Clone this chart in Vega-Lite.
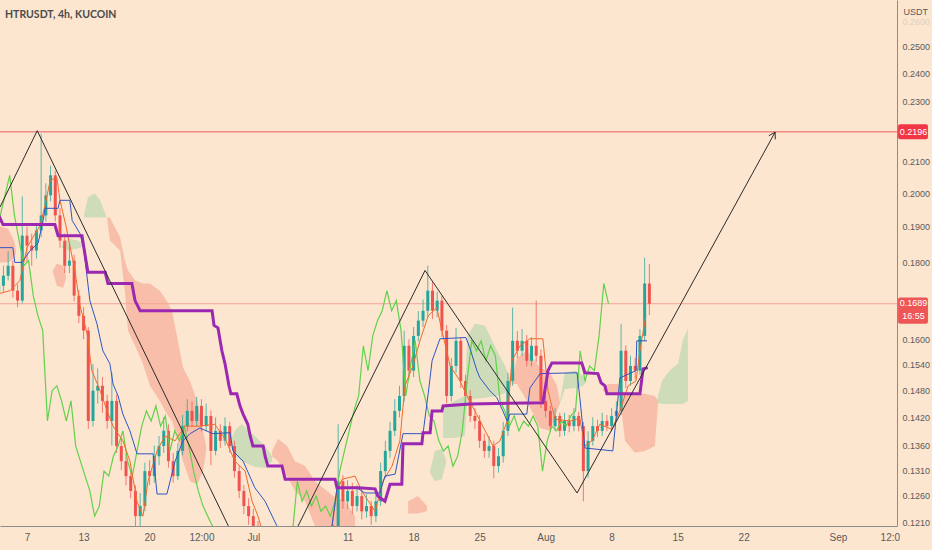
{
"$schema":"https://vega.github.io/schema/vega-lite/v6.json",
"width":897,"height":526,
"autosize":{"type":"none"},
"padding":{"left":0,"top":0,"right":35,"bottom":24},
"background":"#fce6d0",
"config":{"view":{"stroke":null},"font":"Liberation Sans","scale":{"continuousPadding":0}},
"title":{"text":"HTRUSDT, 4h, KUCOIN","anchor":"start","frame":"group","offset":-20,"dx":5,"fontSize":10.5,"fontWeight":"bold","color":"#4a4a4a","font":"Lato"},
"resolve":{"axis":{"x":"independent","y":"independent"}},
"datasets":{
"candles":[
{"t":"2022-06-04T00:00Z","o":0.1720,"h":0.1765,"l":0.1700,"c":0.1736},
{"t":"2022-06-04T12:00Z","o":0.1736,"h":0.1790,"l":0.1720,"c":0.1763},
{"t":"2022-06-05T00:00Z","o":0.1763,"h":0.1830,"l":0.1750,"c":0.1790},
{"t":"2022-06-05T12:00Z","o":0.1790,"h":0.1805,"l":0.1705,"c":0.1723},
{"t":"2022-06-06T00:00Z","o":0.1723,"h":0.1740,"l":0.1680,"c":0.1697},
{"t":"2022-06-06T12:00Z","o":0.1697,"h":0.1990,"l":0.1690,"c":0.1874},
{"t":"2022-06-07T00:00Z","o":0.1874,"h":0.1900,"l":0.1800,"c":0.1846},
{"t":"2022-06-07T12:00Z","o":0.1846,"h":0.1880,"l":0.1790,"c":0.1832},
{"t":"2022-06-08T00:00Z","o":0.1832,"h":0.1910,"l":0.1810,"c":0.1889},
{"t":"2022-06-08T12:00Z","o":0.1889,"h":0.2190,"l":0.1870,"c":0.1933},
{"t":"2022-06-09T00:00Z","o":0.1933,"h":0.2030,"l":0.1915,"c":0.1993},
{"t":"2022-06-09T12:00Z","o":0.1993,"h":0.2085,"l":0.1975,"c":0.2055},
{"t":"2022-06-10T00:00Z","o":0.2055,"h":0.2070,"l":0.1915,"c":0.1933},
{"t":"2022-06-10T12:00Z","o":0.1933,"h":0.1955,"l":0.1840,"c":0.1860},
{"t":"2022-06-11T00:00Z","o":0.1860,"h":0.1880,"l":0.1770,"c":0.1790},
{"t":"2022-06-11T12:00Z","o":0.1790,"h":0.1850,"l":0.1770,"c":0.1804},
{"t":"2022-06-12T00:00Z","o":0.1804,"h":0.1820,"l":0.1695,"c":0.1710},
{"t":"2022-06-12T12:00Z","o":0.1710,"h":0.1725,"l":0.1640,"c":0.1658},
{"t":"2022-06-13T00:00Z","o":0.1658,"h":0.1680,"l":0.1600,"c":0.1621},
{"t":"2022-06-13T12:00Z","o":0.1621,"h":0.1630,"l":0.1395,"c":0.1412},
{"t":"2022-06-14T00:00Z","o":0.1412,"h":0.1540,"l":0.1400,"c":0.1479},
{"t":"2022-06-14T12:00Z","o":0.1479,"h":0.1530,"l":0.1450,"c":0.1490},
{"t":"2022-06-15T00:00Z","o":0.1490,"h":0.1510,"l":0.1430,"c":0.1456},
{"t":"2022-06-15T12:00Z","o":0.1456,"h":0.1470,"l":0.1395,"c":0.1412},
{"t":"2022-06-16T00:00Z","o":0.1412,"h":0.1520,"l":0.1360,"c":0.1456},
{"t":"2022-06-16T12:00Z","o":0.1456,"h":0.1470,"l":0.1345,"c":0.1359},
{"t":"2022-06-17T00:00Z","o":0.1359,"h":0.1375,"l":0.1310,"c":0.1328},
{"t":"2022-06-17T12:00Z","o":0.1328,"h":0.1345,"l":0.1280,"c":0.1298},
{"t":"2022-06-18T00:00Z","o":0.1298,"h":0.1310,"l":0.1255,"c":0.1269},
{"t":"2022-06-18T12:00Z","o":0.1269,"h":0.1280,"l":0.1198,"c":0.1221},
{"t":"2022-06-19T00:00Z","o":0.1221,"h":0.1265,"l":0.1200,"c":0.1240},
{"t":"2022-06-19T12:00Z","o":0.1240,"h":0.1325,"l":0.1230,"c":0.1308},
{"t":"2022-06-20T00:00Z","o":0.1308,"h":0.1330,"l":0.1280,"c":0.1298},
{"t":"2022-06-20T12:00Z","o":0.1298,"h":0.1360,"l":0.1285,"c":0.1338},
{"t":"2022-06-21T00:00Z","o":0.1338,"h":0.1380,"l":0.1320,"c":0.1359},
{"t":"2022-06-21T12:00Z","o":0.1359,"h":0.1420,"l":0.1345,"c":0.1391},
{"t":"2022-06-22T00:00Z","o":0.1391,"h":0.1405,"l":0.1315,"c":0.1328},
{"t":"2022-06-22T12:00Z","o":0.1328,"h":0.1345,"l":0.1285,"c":0.1298},
{"t":"2022-06-23T00:00Z","o":0.1298,"h":0.1365,"l":0.1290,"c":0.1349},
{"t":"2022-06-23T12:00Z","o":0.1349,"h":0.1425,"l":0.1340,"c":0.1401},
{"t":"2022-06-24T00:00Z","o":0.1401,"h":0.1460,"l":0.1390,"c":0.1434},
{"t":"2022-06-24T12:00Z","o":0.1434,"h":0.1455,"l":0.1400,"c":0.1412},
{"t":"2022-06-25T00:00Z","o":0.1412,"h":0.1465,"l":0.1400,"c":0.1445},
{"t":"2022-06-25T12:00Z","o":0.1445,"h":0.1460,"l":0.1390,"c":0.1401},
{"t":"2022-06-26T00:00Z","o":0.1401,"h":0.1450,"l":0.1390,"c":0.1423},
{"t":"2022-06-26T12:00Z","o":0.1423,"h":0.1435,"l":0.1320,"c":0.1349},
{"t":"2022-06-27T00:00Z","o":0.1349,"h":0.1420,"l":0.1340,"c":0.1391},
{"t":"2022-06-27T12:00Z","o":0.1391,"h":0.1405,"l":0.1355,"c":0.1370},
{"t":"2022-06-28T00:00Z","o":0.1370,"h":0.1420,"l":0.1360,"c":0.1401},
{"t":"2022-06-28T12:00Z","o":0.1401,"h":0.1410,"l":0.1345,"c":0.1359},
{"t":"2022-06-29T00:00Z","o":0.1359,"h":0.1370,"l":0.1295,"c":0.1308},
{"t":"2022-06-29T12:00Z","o":0.1308,"h":0.1320,"l":0.1255,"c":0.1269},
{"t":"2022-06-30T00:00Z","o":0.1269,"h":0.1280,"l":0.1225,"c":0.1240},
{"t":"2022-06-30T12:00Z","o":0.1240,"h":0.1255,"l":0.1205,"c":0.1221},
{"t":"2022-07-01T00:00Z","o":0.1221,"h":0.1235,"l":0.1190,"c":0.1203},
{"t":"2022-07-01T12:00Z","o":0.1203,"h":0.1212,"l":0.1180,"c":0.1193},
{"t":"2022-07-02T00:00Z","o":0.1193,"h":0.1200,"l":0.1155,"c":0.1166},
{"t":"2022-07-02T12:00Z","o":0.1166,"h":0.1175,"l":0.1145,"c":0.1157},
{"t":"2022-07-03T00:00Z","o":0.1157,"h":0.1165,"l":0.1140,"c":0.1149},
{"t":"2022-07-03T12:00Z","o":0.1149,"h":0.1170,"l":0.1140,"c":0.1157},
{"t":"2022-07-04T00:00Z","o":0.1157,"h":0.1178,"l":0.1148,"c":0.1166},
{"t":"2022-07-04T12:00Z","o":0.1166,"h":0.1172,"l":0.1140,"c":0.1149},
{"t":"2022-07-05T00:00Z","o":0.1149,"h":0.1168,"l":0.1140,"c":0.1157},
{"t":"2022-07-05T12:00Z","o":0.1157,"h":0.1175,"l":0.1148,"c":0.1166},
{"t":"2022-07-06T00:00Z","o":0.1166,"h":0.1175,"l":0.1148,"c":0.1157},
{"t":"2022-07-06T12:00Z","o":0.1157,"h":0.1185,"l":0.1150,"c":0.1175},
{"t":"2022-07-07T00:00Z","o":0.1175,"h":0.1185,"l":0.1158,"c":0.1166},
{"t":"2022-07-07T12:00Z","o":0.1166,"h":0.1188,"l":0.1160,"c":0.1175},
{"t":"2022-07-08T00:00Z","o":0.1175,"h":0.1185,"l":0.1158,"c":0.1166},
{"t":"2022-07-08T12:00Z","o":0.1166,"h":0.1190,"l":0.1160,"c":0.1175},
{"t":"2022-07-09T00:00Z","o":0.1175,"h":0.1195,"l":0.1165,"c":0.1184},
{"t":"2022-07-09T12:00Z","o":0.1184,"h":0.1205,"l":0.1175,"c":0.1193},
{"t":"2022-07-10T00:00Z","o":0.1193,"h":0.1405,"l":0.1185,"c":0.1288},
{"t":"2022-07-10T12:00Z","o":0.1288,"h":0.1300,"l":0.1235,"c":0.1249},
{"t":"2022-07-11T00:00Z","o":0.1249,"h":0.1290,"l":0.1235,"c":0.1269},
{"t":"2022-07-11T12:00Z","o":0.1269,"h":0.1285,"l":0.1225,"c":0.1240},
{"t":"2022-07-12T00:00Z","o":0.1240,"h":0.1280,"l":0.1230,"c":0.1259},
{"t":"2022-07-12T12:00Z","o":0.1259,"h":0.1270,"l":0.1215,"c":0.1230},
{"t":"2022-07-13T00:00Z","o":0.1230,"h":0.1262,"l":0.1218,"c":0.1240},
{"t":"2022-07-13T12:00Z","o":0.1240,"h":0.1250,"l":0.1205,"c":0.1221},
{"t":"2022-07-14T00:00Z","o":0.1221,"h":0.1265,"l":0.1210,"c":0.1249},
{"t":"2022-07-14T12:00Z","o":0.1249,"h":0.1325,"l":0.1240,"c":0.1308},
{"t":"2022-07-15T00:00Z","o":0.1308,"h":0.1370,"l":0.1295,"c":0.1349},
{"t":"2022-07-15T12:00Z","o":0.1349,"h":0.1410,"l":0.1335,"c":0.1391},
{"t":"2022-07-16T00:00Z","o":0.1391,"h":0.1460,"l":0.1380,"c":0.1434},
{"t":"2022-07-16T12:00Z","o":0.1434,"h":0.1490,"l":0.1420,"c":0.1467},
{"t":"2022-07-17T00:00Z","o":0.1467,"h":0.1621,"l":0.1455,"c":0.1584},
{"t":"2022-07-17T12:00Z","o":0.1584,"h":0.1600,"l":0.1505,"c":0.1525},
{"t":"2022-07-18T00:00Z","o":0.1525,"h":0.1630,"l":0.1510,"c":0.1608},
{"t":"2022-07-18T12:00Z","o":0.1608,"h":0.1670,"l":0.1595,"c":0.1646},
{"t":"2022-07-19T00:00Z","o":0.1646,"h":0.1700,"l":0.1630,"c":0.1671},
{"t":"2022-07-19T12:00Z","o":0.1671,"h":0.1790,"l":0.1655,"c":0.1723},
{"t":"2022-07-20T00:00Z","o":0.1723,"h":0.1745,"l":0.1650,"c":0.1671},
{"t":"2022-07-20T12:00Z","o":0.1671,"h":0.1720,"l":0.1655,"c":0.1697},
{"t":"2022-07-21T00:00Z","o":0.1697,"h":0.1710,"l":0.1605,"c":0.1621},
{"t":"2022-07-21T12:00Z","o":0.1621,"h":0.1635,"l":0.1450,"c":0.1467},
{"t":"2022-07-22T00:00Z","o":0.1467,"h":0.1555,"l":0.1455,"c":0.1536},
{"t":"2022-07-22T12:00Z","o":0.1536,"h":0.1628,"l":0.1520,"c":0.1596},
{"t":"2022-07-23T00:00Z","o":0.1596,"h":0.1605,"l":0.1485,"c":0.1501},
{"t":"2022-07-23T12:00Z","o":0.1501,"h":0.1515,"l":0.1450,"c":0.1467},
{"t":"2022-07-24T00:00Z","o":0.1467,"h":0.1480,"l":0.1410,"c":0.1423},
{"t":"2022-07-24T12:00Z","o":0.1423,"h":0.1440,"l":0.1395,"c":0.1412},
{"t":"2022-07-25T00:00Z","o":0.1412,"h":0.1425,"l":0.1355,"c":0.1370},
{"t":"2022-07-25T12:00Z","o":0.1370,"h":0.1385,"l":0.1335,"c":0.1349},
{"t":"2022-07-26T00:00Z","o":0.1349,"h":0.1380,"l":0.1335,"c":0.1359},
{"t":"2022-07-26T12:00Z","o":0.1359,"h":0.1370,"l":0.1294,"c":0.1318},
{"t":"2022-07-27T00:00Z","o":0.1318,"h":0.1355,"l":0.1305,"c":0.1338},
{"t":"2022-07-27T12:00Z","o":0.1338,"h":0.1410,"l":0.1325,"c":0.1391},
{"t":"2022-07-28T00:00Z","o":0.1391,"h":0.1520,"l":0.1380,"c":0.1501},
{"t":"2022-07-28T12:00Z","o":0.1501,"h":0.1679,"l":0.1490,"c":0.1596},
{"t":"2022-07-29T00:00Z","o":0.1596,"h":0.1620,"l":0.1555,"c":0.1572},
{"t":"2022-07-29T12:00Z","o":0.1572,"h":0.1625,"l":0.1560,"c":0.1596},
{"t":"2022-07-30T00:00Z","o":0.1596,"h":0.1610,"l":0.1535,"c":0.1548},
{"t":"2022-07-30T12:00Z","o":0.1548,"h":0.1605,"l":0.1535,"c":0.1584},
{"t":"2022-07-31T00:00Z","o":0.1584,"h":0.1697,"l":0.1545,"c":0.1560},
{"t":"2022-07-31T12:00Z","o":0.1560,"h":0.1575,"l":0.1440,"c":0.1456},
{"t":"2022-08-01T00:00Z","o":0.1456,"h":0.1470,"l":0.1420,"c":0.1434},
{"t":"2022-08-01T12:00Z","o":0.1434,"h":0.1445,"l":0.1388,"c":0.1401},
{"t":"2022-08-02T00:00Z","o":0.1401,"h":0.1440,"l":0.1390,"c":0.1423},
{"t":"2022-08-02T12:00Z","o":0.1423,"h":0.1430,"l":0.1378,"c":0.1391},
{"t":"2022-08-03T00:00Z","o":0.1391,"h":0.1430,"l":0.1380,"c":0.1412},
{"t":"2022-08-03T12:00Z","o":0.1412,"h":0.1425,"l":0.1388,"c":0.1401},
{"t":"2022-08-04T00:00Z","o":0.1401,"h":0.1440,"l":0.1390,"c":0.1423},
{"t":"2022-08-04T12:00Z","o":0.1423,"h":0.1432,"l":0.1390,"c":0.1401},
{"t":"2022-08-05T00:00Z","o":0.1401,"h":0.1410,"l":0.1249,"c":0.1308},
{"t":"2022-08-05T12:00Z","o":0.1308,"h":0.1390,"l":0.1295,"c":0.1370},
{"t":"2022-08-06T00:00Z","o":0.1370,"h":0.1420,"l":0.1360,"c":0.1401},
{"t":"2022-08-06T12:00Z","o":0.1401,"h":0.1415,"l":0.1378,"c":0.1391},
{"t":"2022-08-07T00:00Z","o":0.1391,"h":0.1430,"l":0.1380,"c":0.1412},
{"t":"2022-08-07T12:00Z","o":0.1412,"h":0.1425,"l":0.1390,"c":0.1401},
{"t":"2022-08-08T00:00Z","o":0.1401,"h":0.1440,"l":0.1390,"c":0.1423},
{"t":"2022-08-08T12:00Z","o":0.1423,"h":0.1455,"l":0.1410,"c":0.1434},
{"t":"2022-08-09T00:00Z","o":0.1434,"h":0.1638,"l":0.1425,"c":0.1572},
{"t":"2022-08-09T12:00Z","o":0.1572,"h":0.1585,"l":0.1485,"c":0.1501},
{"t":"2022-08-10T00:00Z","o":0.1501,"h":0.1560,"l":0.1490,"c":0.1536},
{"t":"2022-08-10T12:00Z","o":0.1536,"h":0.1555,"l":0.1505,"c":0.1525},
{"t":"2022-08-11T00:00Z","o":0.1525,"h":0.1625,"l":0.1515,"c":0.1608},
{"t":"2022-08-11T12:00Z","o":0.1608,"h":0.1812,"l":0.1595,"c":0.1742},
{"t":"2022-08-12T00:00Z","o":0.1742,"h":0.1795,"l":0.1660,"c":0.1689}
],
"green":[
{"t":"2022-06-03T16:00Z","v":0.1889},{"t":"2022-06-04T04:00Z","v":0.1933},{"t":"2022-06-04T16:00Z","v":0.1993},{"t":"2022-06-05T04:00Z","v":0.2055},
{"t":"2022-06-05T16:00Z","v":0.1933},{"t":"2022-06-06T04:00Z","v":0.1860},{"t":"2022-06-06T16:00Z","v":0.1790},{"t":"2022-06-07T04:00Z","v":0.1804},
{"t":"2022-06-07T16:00Z","v":0.1710},{"t":"2022-06-08T04:00Z","v":0.1658},{"t":"2022-06-08T16:00Z","v":0.1621},{"t":"2022-06-09T04:00Z","v":0.1412},
{"t":"2022-06-09T16:00Z","v":0.1479},{"t":"2022-06-10T04:00Z","v":0.1490},{"t":"2022-06-10T16:00Z","v":0.1456},{"t":"2022-06-11T04:00Z","v":0.1412},
{"t":"2022-06-11T16:00Z","v":0.1456},{"t":"2022-06-12T04:00Z","v":0.1359},{"t":"2022-06-12T16:00Z","v":0.1328},{"t":"2022-06-13T04:00Z","v":0.1298},
{"t":"2022-06-13T16:00Z","v":0.1269},{"t":"2022-06-14T04:00Z","v":0.1221},{"t":"2022-06-14T16:00Z","v":0.1240},{"t":"2022-06-15T04:00Z","v":0.1308},
{"t":"2022-06-15T16:00Z","v":0.1298},{"t":"2022-06-16T04:00Z","v":0.1338},{"t":"2022-06-16T16:00Z","v":0.1359},{"t":"2022-06-17T04:00Z","v":0.1391},
{"t":"2022-06-17T16:00Z","v":0.1328},{"t":"2022-06-18T04:00Z","v":0.1298},{"t":"2022-06-18T16:00Z","v":0.1349},{"t":"2022-06-19T04:00Z","v":0.1401},
{"t":"2022-06-19T16:00Z","v":0.1434},{"t":"2022-06-20T04:00Z","v":0.1412},{"t":"2022-06-20T16:00Z","v":0.1445},{"t":"2022-06-21T04:00Z","v":0.1401},
{"t":"2022-06-21T16:00Z","v":0.1423},{"t":"2022-06-22T04:00Z","v":0.1349},{"t":"2022-06-22T16:00Z","v":0.1391},{"t":"2022-06-23T04:00Z","v":0.1370},
{"t":"2022-06-23T16:00Z","v":0.1401},{"t":"2022-06-24T04:00Z","v":0.1359},{"t":"2022-06-24T16:00Z","v":0.1308},{"t":"2022-06-25T04:00Z","v":0.1269},
{"t":"2022-06-25T16:00Z","v":0.1240},{"t":"2022-06-26T04:00Z","v":0.1221},{"t":"2022-06-26T16:00Z","v":0.1203},{"t":"2022-06-27T04:00Z","v":0.1193},
{"t":"2022-06-27T16:00Z","v":0.1166},{"t":"2022-06-28T04:00Z","v":0.1157},{"t":"2022-06-28T16:00Z","v":0.1149},{"t":"2022-06-29T04:00Z","v":0.1157},
{"t":"2022-06-29T16:00Z","v":0.1166},{"t":"2022-06-30T04:00Z","v":0.1149},{"t":"2022-06-30T16:00Z","v":0.1157},{"t":"2022-07-01T04:00Z","v":0.1166},
{"t":"2022-07-01T16:00Z","v":0.1157},{"t":"2022-07-02T04:00Z","v":0.1175},{"t":"2022-07-02T16:00Z","v":0.1166},{"t":"2022-07-03T04:00Z","v":0.1175},
{"t":"2022-07-03T16:00Z","v":0.1166},{"t":"2022-07-04T04:00Z","v":0.1175},{"t":"2022-07-04T16:00Z","v":0.1184},{"t":"2022-07-05T04:00Z","v":0.1193},
{"t":"2022-07-05T16:00Z","v":0.1288},{"t":"2022-07-06T04:00Z","v":0.1249},{"t":"2022-07-06T16:00Z","v":0.1269},{"t":"2022-07-07T04:00Z","v":0.1240},
{"t":"2022-07-07T16:00Z","v":0.1259},{"t":"2022-07-08T04:00Z","v":0.1230},{"t":"2022-07-08T16:00Z","v":0.1240},{"t":"2022-07-09T04:00Z","v":0.1221},
{"t":"2022-07-09T16:00Z","v":0.1249},{"t":"2022-07-10T04:00Z","v":0.1308},{"t":"2022-07-10T16:00Z","v":0.1349},{"t":"2022-07-11T04:00Z","v":0.1391},
{"t":"2022-07-11T16:00Z","v":0.1434},{"t":"2022-07-12T04:00Z","v":0.1467},{"t":"2022-07-12T16:00Z","v":0.1584},{"t":"2022-07-13T04:00Z","v":0.1525},
{"t":"2022-07-13T16:00Z","v":0.1608},{"t":"2022-07-14T04:00Z","v":0.1646},{"t":"2022-07-14T16:00Z","v":0.1671},{"t":"2022-07-15T04:00Z","v":0.1723},
{"t":"2022-07-15T16:00Z","v":0.1671},{"t":"2022-07-16T04:00Z","v":0.1697},{"t":"2022-07-16T16:00Z","v":0.1621},{"t":"2022-07-17T04:00Z","v":0.1467},
{"t":"2022-07-17T16:00Z","v":0.1536},{"t":"2022-07-18T04:00Z","v":0.1596},{"t":"2022-07-18T16:00Z","v":0.1501},{"t":"2022-07-19T04:00Z","v":0.1467},
{"t":"2022-07-19T16:00Z","v":0.1423},{"t":"2022-07-20T04:00Z","v":0.1412},{"t":"2022-07-20T16:00Z","v":0.1370},{"t":"2022-07-21T04:00Z","v":0.1349},
{"t":"2022-07-21T16:00Z","v":0.1359},{"t":"2022-07-22T04:00Z","v":0.1318},{"t":"2022-07-22T16:00Z","v":0.1338},{"t":"2022-07-23T04:00Z","v":0.1391},
{"t":"2022-07-23T16:00Z","v":0.1501},{"t":"2022-07-24T04:00Z","v":0.1596},{"t":"2022-07-24T16:00Z","v":0.1572},{"t":"2022-07-25T04:00Z","v":0.1596},
{"t":"2022-07-25T16:00Z","v":0.1548},{"t":"2022-07-26T04:00Z","v":0.1584},{"t":"2022-07-26T16:00Z","v":0.1560},{"t":"2022-07-27T04:00Z","v":0.1456},
{"t":"2022-07-27T16:00Z","v":0.1434},{"t":"2022-07-28T04:00Z","v":0.1401},{"t":"2022-07-28T16:00Z","v":0.1423},{"t":"2022-07-29T04:00Z","v":0.1391},
{"t":"2022-07-29T16:00Z","v":0.1412},{"t":"2022-07-30T04:00Z","v":0.1401},{"t":"2022-07-30T16:00Z","v":0.1423},{"t":"2022-07-31T04:00Z","v":0.1401},
{"t":"2022-07-31T16:00Z","v":0.1308},{"t":"2022-08-01T04:00Z","v":0.1370},{"t":"2022-08-01T16:00Z","v":0.1401},{"t":"2022-08-02T04:00Z","v":0.1391},
{"t":"2022-08-02T16:00Z","v":0.1412},{"t":"2022-08-03T04:00Z","v":0.1401},{"t":"2022-08-03T16:00Z","v":0.1423},{"t":"2022-08-04T04:00Z","v":0.1434},
{"t":"2022-08-04T16:00Z","v":0.1572},{"t":"2022-08-05T04:00Z","v":0.1501},{"t":"2022-08-05T16:00Z","v":0.1536},{"t":"2022-08-06T04:00Z","v":0.1525},
{"t":"2022-08-06T16:00Z","v":0.1608},{"t":"2022-08-07T04:00Z","v":0.1742},{"t":"2022-08-07T16:00Z","v":0.1689}
],
"blue":[
{"t":"2022-06-04T00:00Z","v":0.1840},{"t":"2022-06-05T12:00Z","v":0.1840},{"t":"2022-06-05T17:00Z","v":0.1799},{"t":"2022-06-06T11:00Z","v":0.1799},
{"t":"2022-06-07T08:00Z","v":0.1832},{"t":"2022-06-08T04:00Z","v":0.1852},{"t":"2022-06-08T17:00Z","v":0.1918},{"t":"2022-06-08T22:00Z","v":0.1954},
{"t":"2022-06-10T07:00Z","v":0.1954},{"t":"2022-06-10T12:00Z","v":0.1978},{"t":"2022-06-11T13:00Z","v":0.1978},{"t":"2022-06-11T19:00Z","v":0.1918},
{"t":"2022-06-12T15:00Z","v":0.1880},{"t":"2022-06-13T01:00Z","v":0.1832},{"t":"2022-06-13T16:00Z","v":0.1697},{"t":"2022-06-14T10:00Z","v":0.1638},
{"t":"2022-06-15T01:00Z","v":0.1572},{"t":"2022-06-15T19:00Z","v":0.1541},{"t":"2022-06-16T03:00Z","v":0.1494},{"t":"2022-06-16T16:00Z","v":0.1467},
{"t":"2022-06-17T04:00Z","v":0.1427},{"t":"2022-06-17T22:00Z","v":0.1391},{"t":"2022-06-18T16:00Z","v":0.1343},{"t":"2022-06-20T09:00Z","v":0.1343},
{"t":"2022-06-20T19:00Z","v":0.1263},{"t":"2022-06-21T20:00Z","v":0.1263},{"t":"2022-06-22T17:00Z","v":0.1328},{"t":"2022-06-23T13:00Z","v":0.1370},
{"t":"2022-06-24T07:00Z","v":0.1385},{"t":"2022-06-25T08:00Z","v":0.1397},{"t":"2022-06-26T17:00Z","v":0.1385},{"t":"2022-06-28T13:00Z","v":0.1387},
{"t":"2022-06-28T20:00Z","v":0.1349},{"t":"2022-06-29T22:00Z","v":0.1328},{"t":"2022-07-01T04:00Z","v":0.1275},{"t":"2022-07-02T06:00Z","v":0.1249},
{"t":"2022-07-03T12:00Z","v":0.1203},{"t":"2022-07-04T21:00Z","v":0.1175},{"t":"2022-07-09T03:00Z","v":0.1175},{"t":"2022-07-09T21:00Z","v":0.1275},
{"t":"2022-07-12T00:00Z","v":0.1275},{"t":"2022-07-12T20:00Z","v":0.1265},{"t":"2022-07-14T10:00Z","v":0.1265},{"t":"2022-07-14T23:00Z","v":0.1298},
{"t":"2022-07-16T01:00Z","v":0.1302},{"t":"2022-07-16T21:00Z","v":0.1385},{"t":"2022-07-19T00:00Z","v":0.1385},{"t":"2022-07-19T13:00Z","v":0.1472},
{"t":"2022-07-19T23:00Z","v":0.1548},{"t":"2022-07-20T19:00Z","v":0.1601},{"t":"2022-07-23T13:00Z","v":0.1604},{"t":"2022-07-23T23:00Z","v":0.1579},
{"t":"2022-07-24T17:00Z","v":0.1525},{"t":"2022-07-25T01:00Z","v":0.1508},{"t":"2022-07-26T02:00Z","v":0.1479},{"t":"2022-07-26T20:00Z","v":0.1463},
{"t":"2022-07-27T11:00Z","v":0.1434},{"t":"2022-07-27T22:00Z","v":0.1412},{"t":"2022-07-28T05:00Z","v":0.1427},{"t":"2022-07-30T00:00Z","v":0.1427},
{"t":"2022-07-30T08:00Z","v":0.1485},{"t":"2022-07-31T10:00Z","v":0.1518},{"t":"2022-08-04T08:00Z","v":0.1520},{"t":"2022-08-04T15:00Z","v":0.1463},
{"t":"2022-08-05T04:00Z","v":0.1355},{"t":"2022-08-08T03:00Z","v":0.1349},{"t":"2022-08-08T14:00Z","v":0.1441},{"t":"2022-08-08T21:00Z","v":0.1508},
{"t":"2022-08-10T14:00Z","v":0.1525},{"t":"2022-08-10T16:00Z","v":0.1596},{"t":"2022-08-11T18:00Z","v":0.1596}
],
"orange":[
{"t":"2022-06-04T00:00Z","v":0.1715},{"t":"2022-06-05T05:00Z","v":0.1723},{"t":"2022-06-06T06:00Z","v":0.1750},{"t":"2022-06-07T00:00Z","v":0.1840},
{"t":"2022-06-07T15:00Z","v":0.1869},{"t":"2022-06-08T09:00Z","v":0.1903},{"t":"2022-06-08T22:00Z","v":0.1963},{"t":"2022-06-09T11:00Z","v":0.2039},
{"t":"2022-06-10T04:00Z","v":0.2048},{"t":"2022-06-10T12:00Z","v":0.1978},{"t":"2022-06-11T03:00Z","v":0.1903},{"t":"2022-06-11T13:00Z","v":0.1846},
{"t":"2022-06-12T02:00Z","v":0.1777},{"t":"2022-06-12T15:00Z","v":0.1684},{"t":"2022-06-13T09:00Z","v":0.1614},{"t":"2022-06-13T21:00Z","v":0.1525},
{"t":"2022-06-14T18:00Z","v":0.1479},{"t":"2022-06-15T12:00Z","v":0.1434},{"t":"2022-06-16T03:00Z","v":0.1401},{"t":"2022-06-17T04:00Z","v":0.1370},
{"t":"2022-06-17T22:00Z","v":0.1328},{"t":"2022-06-18T16:00Z","v":0.1249},{"t":"2022-06-19T07:00Z","v":0.1221},{"t":"2022-06-19T20:00Z","v":0.1288},
{"t":"2022-06-20T19:00Z","v":0.1349},{"t":"2022-06-21T15:00Z","v":0.1380},{"t":"2022-06-22T17:00Z","v":0.1370},{"t":"2022-06-23T18:00Z","v":0.1401},
{"t":"2022-06-25T08:00Z","v":0.1401},{"t":"2022-06-26T22:00Z","v":0.1405},{"t":"2022-06-28T00:00Z","v":0.1374},{"t":"2022-06-29T01:00Z","v":0.1328},
{"t":"2022-06-30T03:00Z","v":0.1308},{"t":"2022-06-30T21:00Z","v":0.1249},{"t":"2022-07-01T12:00Z","v":0.1221},{"t":"2022-07-02T06:00Z","v":0.1175},
{"t":"2022-07-09T03:00Z","v":0.1175},{"t":"2022-07-09T21:00Z","v":0.1269},{"t":"2022-07-10T10:00Z","v":0.1292},{"t":"2022-07-11T19:00Z","v":0.1298},
{"t":"2022-07-12T12:00Z","v":0.1269},{"t":"2022-07-13T22:00Z","v":0.1230},{"t":"2022-07-14T18:00Z","v":0.1288},{"t":"2022-07-15T17:00Z","v":0.1318},
{"t":"2022-07-16T13:00Z","v":0.1370},{"t":"2022-07-17T02:00Z","v":0.1490},{"t":"2022-07-17T22:00Z","v":0.1536},{"t":"2022-07-18T16:00Z","v":0.1596},
{"t":"2022-07-19T13:00Z","v":0.1658},{"t":"2022-07-20T11:00Z","v":0.1679},{"t":"2022-07-21T00:00Z","v":0.1621},{"t":"2022-07-21T21:00Z","v":0.1536},
{"t":"2022-07-22T22:00Z","v":0.1501},{"t":"2022-07-23T16:00Z","v":0.1467},{"t":"2022-07-24T12:00Z","v":0.1434},{"t":"2022-07-25T08:00Z","v":0.1401},
{"t":"2022-07-26T10:00Z","v":0.1359},{"t":"2022-07-27T04:00Z","v":0.1370},{"t":"2022-07-27T22:00Z","v":0.1412},{"t":"2022-07-28T10:00Z","v":0.1548},
{"t":"2022-07-29T07:00Z","v":0.1584},{"t":"2022-07-30T08:00Z","v":0.1601},{"t":"2022-07-31T17:00Z","v":0.1601},{"t":"2022-08-01T06:00Z","v":0.1479},
{"t":"2022-08-02T00:00Z","v":0.1416},{"t":"2022-08-03T14:00Z","v":0.1412},{"t":"2022-08-04T15:00Z","v":0.1418},{"t":"2022-08-05T04:00Z","v":0.1359},
{"t":"2022-08-05T22:00Z","v":0.1370},{"t":"2022-08-06T18:00Z","v":0.1405},{"t":"2022-08-08T01:00Z","v":0.1394},{"t":"2022-08-08T21:00Z","v":0.1434},
{"t":"2022-08-09T18:00Z","v":0.1490},{"t":"2022-08-10T14:00Z","v":0.1501},{"t":"2022-08-11T00:00Z","v":0.1572},{"t":"2022-08-11T15:00Z","v":0.1658}
],
"purple":[
{"t":"2022-06-04T00:00Z","v":0.1933},{"t":"2022-06-04T11:00Z","v":0.1906},{"t":"2022-06-09T23:00Z","v":0.1906},{"t":"2022-06-10T07:00Z","v":0.1874},
{"t":"2022-06-12T20:00Z","v":0.1874},{"t":"2022-06-13T04:00Z","v":0.1818},{"t":"2022-06-13T11:00Z","v":0.1772},{"t":"2022-06-15T07:00Z","v":0.1772},
{"t":"2022-06-15T14:00Z","v":0.1742},{"t":"2022-06-18T03:00Z","v":0.1742},{"t":"2022-06-18T11:00Z","v":0.1697},{"t":"2022-06-19T00:00Z","v":0.1671},
{"t":"2022-06-26T15:00Z","v":0.1671},{"t":"2022-06-26T20:00Z","v":0.1634},{"t":"2022-06-27T06:00Z","v":0.1628},{"t":"2022-06-27T16:00Z","v":0.1572},
{"t":"2022-06-28T00:00Z","v":0.1541},{"t":"2022-06-28T10:00Z","v":0.1490},{"t":"2022-06-28T15:00Z","v":0.1472},{"t":"2022-06-29T06:00Z","v":0.1472},
{"t":"2022-06-29T14:00Z","v":0.1445},{"t":"2022-06-29T22:00Z","v":0.1427},{"t":"2022-06-30T10:00Z","v":0.1405},{"t":"2022-06-30T16:00Z","v":0.1380},
{"t":"2022-06-30T23:00Z","v":0.1359},{"t":"2022-07-02T01:00Z","v":0.1359},{"t":"2022-07-02T06:00Z","v":0.1338},{"t":"2022-07-02T13:00Z","v":0.1318},
{"t":"2022-07-04T01:00Z","v":0.1318},{"t":"2022-07-04T09:00Z","v":0.1292},{"t":"2022-07-09T16:00Z","v":0.1292},{"t":"2022-07-09T21:00Z","v":0.1275},
{"t":"2022-07-12T02:00Z","v":0.1275},{"t":"2022-07-13T22:00Z","v":0.1273},{"t":"2022-07-14T05:00Z","v":0.1259},{"t":"2022-07-14T23:00Z","v":0.1249},
{"t":"2022-07-15T07:00Z","v":0.1269},{"t":"2022-07-15T12:00Z","v":0.1282},{"t":"2022-07-16T18:00Z","v":0.1282},{"t":"2022-07-16T21:00Z","v":0.1364},
{"t":"2022-07-18T21:00Z","v":0.1364},{"t":"2022-07-19T00:00Z","v":0.1387},{"t":"2022-07-19T18:00Z","v":0.1387},{"t":"2022-07-19T23:00Z","v":0.1434},
{"t":"2022-07-21T00:00Z","v":0.1434},{"t":"2022-07-21T03:00Z","v":0.1445},{"t":"2022-07-23T23:00Z","v":0.1449},{"t":"2022-07-31T17:00Z","v":0.1452},
{"t":"2022-07-31T22:00Z","v":0.1479},{"t":"2022-08-01T06:00Z","v":0.1525},{"t":"2022-08-01T16:00Z","v":0.1543},{"t":"2022-08-04T20:00Z","v":0.1543},
{"t":"2022-08-05T04:00Z","v":0.1520},{"t":"2022-08-06T13:00Z","v":0.1518},{"t":"2022-08-06T21:00Z","v":0.1497},{"t":"2022-08-07T07:00Z","v":0.1490},
{"t":"2022-08-07T12:00Z","v":0.1472},{"t":"2022-08-11T00:00Z","v":0.1472},{"t":"2022-08-11T08:00Z","v":0.1529},{"t":"2022-08-11T20:00Z","v":0.1532}
],
"cloud":[
{"seg":1,"kind":"r","t":"2022-06-03T22:00Z","a":0.1903,"b":0.1799},{"seg":1,"kind":"r","t":"2022-06-05T00:00Z","a":0.1894,"b":0.1799},{"seg":1,"kind":"r","t":"2022-06-05T15:00Z","a":0.1860,"b":0.1810},{"seg":1,"kind":"r","t":"2022-06-05T20:00Z","a":0.1832,"b":0.1826},
{"seg":2,"kind":"r","t":"2022-06-09T18:00Z","a":0.1777,"b":0.1772},{"seg":2,"kind":"r","t":"2022-06-10T04:00Z","a":0.1796,"b":0.1736},{"seg":2,"kind":"r","t":"2022-06-10T20:00Z","a":0.1790,"b":0.1731},{"seg":2,"kind":"r","t":"2022-06-11T03:00Z","a":0.1763,"b":0.1755},
{"seg":3,"kind":"g","t":"2022-06-10T17:00Z","a":0.1846,"b":0.1840},{"seg":3,"kind":"g","t":"2022-06-11T08:00Z","a":0.1866,"b":0.1832},{"seg":3,"kind":"g","t":"2022-06-12T10:00Z","a":0.1860,"b":0.1838},{"seg":3,"kind":"g","t":"2022-06-12T20:00Z","a":0.1849,"b":0.1843},
{"seg":4,"kind":"g","t":"2022-06-13T01:00Z","a":0.1933,"b":0.1927},{"seg":4,"kind":"g","t":"2022-06-13T11:00Z","a":0.1987,"b":0.1927},{"seg":4,"kind":"g","t":"2022-06-14T05:00Z","a":0.1999,"b":0.1927},{"seg":4,"kind":"g","t":"2022-06-14T18:00Z","a":0.1978,"b":0.1927},{"seg":4,"kind":"g","t":"2022-06-15T09:00Z","a":0.1933,"b":0.1927},
{"seg":5,"kind":"r","t":"2022-06-15T12:00Z","a":0.1927,"b":0.1924},{"seg":5,"kind":"r","t":"2022-06-15T19:00Z","a":0.1927,"b":0.1860},{"seg":5,"kind":"r","t":"2022-06-16T21:00Z","a":0.1869,"b":0.1832},{"seg":5,"kind":"r","t":"2022-06-17T09:00Z","a":0.1804,"b":0.1723},
{"seg":5,"kind":"r","t":"2022-06-17T17:00Z","a":0.1777,"b":0.1621},{"seg":5,"kind":"r","t":"2022-06-18T11:00Z","a":0.1750,"b":0.1584},{"seg":5,"kind":"r","t":"2022-06-19T07:00Z","a":0.1742,"b":0.1541},{"seg":5,"kind":"r","t":"2022-06-20T01:00Z","a":0.1742,"b":0.1490},
{"seg":5,"kind":"r","t":"2022-06-21T02:00Z","a":0.1723,"b":0.1456},{"seg":5,"kind":"r","t":"2022-06-21T20:00Z","a":0.1697,"b":0.1427},{"seg":5,"kind":"r","t":"2022-06-22T09:00Z","a":0.1671,"b":0.1412},{"seg":5,"kind":"r","t":"2022-06-23T00:00Z","a":0.1596,"b":0.1370},
{"seg":5,"kind":"r","t":"2022-06-23T13:00Z","a":0.1532,"b":0.1328},{"seg":5,"kind":"r","t":"2022-06-24T07:00Z","a":0.1501,"b":0.1288},{"seg":5,"kind":"r","t":"2022-06-25T01:00Z","a":0.1456,"b":0.1282},{"seg":5,"kind":"r","t":"2022-06-25T16:00Z","a":0.1391,"b":0.1308},{"seg":5,"kind":"r","t":"2022-06-26T00:00Z","a":0.1359,"b":0.1349},
{"seg":6,"kind":"g","t":"2022-06-28T13:00Z","a":0.1370,"b":0.1359},{"seg":6,"kind":"g","t":"2022-06-29T04:00Z","a":0.1395,"b":0.1338},{"seg":6,"kind":"g","t":"2022-06-29T19:00Z","a":0.1405,"b":0.1328},{"seg":6,"kind":"g","t":"2022-07-01T04:00Z","a":0.1380,"b":0.1316},{"seg":6,"kind":"g","t":"2022-07-02T06:00Z","a":0.1359,"b":0.1314},{"seg":6,"kind":"g","t":"2022-07-03T00:00Z","a":0.1338,"b":0.1328},
{"seg":7,"kind":"r","t":"2022-07-03T00:00Z","a":0.1349,"b":0.1338},{"seg":7,"kind":"r","t":"2022-07-03T15:00Z","a":0.1374,"b":0.1328},{"seg":7,"kind":"r","t":"2022-07-04T14:00Z","a":0.1359,"b":0.1298},{"seg":7,"kind":"r","t":"2022-07-05T10:00Z","a":0.1328,"b":0.1269},
{"seg":7,"kind":"r","t":"2022-07-06T12:00Z","a":0.1318,"b":0.1249},{"seg":7,"kind":"r","t":"2022-07-07T13:00Z","a":0.1288,"b":0.1203},{"seg":7,"kind":"r","t":"2022-07-09T11:00Z","a":0.1259,"b":0.1175},{"seg":7,"kind":"r","t":"2022-07-10T17:00Z","a":0.1249,"b":0.1175},{"seg":7,"kind":"r","t":"2022-07-11T19:00Z","a":0.1221,"b":0.1203},
{"seg":8,"kind":"r","t":"2022-07-17T10:00Z","a":0.1249,"b":0.1226},{"seg":8,"kind":"r","t":"2022-07-18T11:00Z","a":0.1259,"b":0.1226},{"seg":8,"kind":"r","t":"2022-07-19T10:00Z","a":0.1240,"b":0.1230},
{"seg":9,"kind":"g","t":"2022-07-19T18:00Z","a":0.1308,"b":0.1304},{"seg":9,"kind":"g","t":"2022-07-20T06:00Z","a":0.1349,"b":0.1288},{"seg":9,"kind":"g","t":"2022-07-21T00:00Z","a":0.1353,"b":0.1292},{"seg":9,"kind":"g","t":"2022-07-21T10:00Z","a":0.1332,"b":0.1324},
{"seg":10,"kind":"g","t":"2022-07-21T03:00Z","a":0.1441,"b":0.1376},{"seg":10,"kind":"g","t":"2022-07-22T08:00Z","a":0.1456,"b":0.1376},{"seg":10,"kind":"g","t":"2022-07-23T10:00Z","a":0.1467,"b":0.1380},{"seg":10,"kind":"g","t":"2022-07-23T17:00Z","a":0.1608,"b":0.1456},
{"seg":10,"kind":"g","t":"2022-07-24T12:00Z","a":0.1638,"b":0.1461},{"seg":10,"kind":"g","t":"2022-07-25T14:00Z","a":0.1633,"b":0.1463},{"seg":10,"kind":"g","t":"2022-07-26T20:00Z","a":0.1572,"b":0.1467},{"seg":10,"kind":"g","t":"2022-07-27T17:00Z","a":0.1536,"b":0.1474},{"seg":10,"kind":"g","t":"2022-07-28T05:00Z","a":0.1508,"b":0.1490},{"seg":10,"kind":"g","t":"2022-07-28T10:00Z","a":0.1499,"b":0.1497},
{"seg":11,"kind":"r","t":"2022-07-28T10:00Z","a":0.1499,"b":0.1494},{"seg":11,"kind":"r","t":"2022-07-28T23:00Z","a":0.1555,"b":0.1494},{"seg":11,"kind":"r","t":"2022-07-30T00:00Z","a":0.1572,"b":0.1456},{"seg":11,"kind":"r","t":"2022-07-31T10:00Z","a":0.1532,"b":0.1397},
{"seg":11,"kind":"r","t":"2022-08-01T11:00Z","a":0.1520,"b":0.1391},{"seg":11,"kind":"r","t":"2022-08-02T05:00Z","a":0.1490,"b":0.1434},{"seg":11,"kind":"r","t":"2022-08-02T12:00Z","a":0.1456,"b":0.1449},
{"seg":12,"kind":"g","t":"2022-08-02T12:00Z","a":0.1454,"b":0.1449},{"seg":12,"kind":"g","t":"2022-08-03T01:00Z","a":0.1520,"b":0.1483},{"seg":12,"kind":"g","t":"2022-08-04T03:00Z","a":0.1525,"b":0.1485},{"seg":12,"kind":"g","t":"2022-08-04T23:00Z","a":0.1513,"b":0.1490},{"seg":12,"kind":"g","t":"2022-08-05T09:00Z","a":0.1501,"b":0.1499},
{"seg":13,"kind":"r","t":"2022-08-07T02:00Z","a":0.1483,"b":0.1479},{"seg":13,"kind":"r","t":"2022-08-07T15:00Z","a":0.1494,"b":0.1472},{"seg":13,"kind":"r","t":"2022-08-08T16:00Z","a":0.1494,"b":0.1472},{"seg":13,"kind":"r","t":"2022-08-09T05:00Z","a":0.1479,"b":0.1472},
{"seg":14,"kind":"r","t":"2022-08-08T21:00Z","a":0.1474,"b":0.1467},{"seg":14,"kind":"r","t":"2022-08-09T10:00Z","a":0.1472,"b":0.1370},{"seg":14,"kind":"r","t":"2022-08-10T11:00Z","a":0.1472,"b":0.1345},{"seg":14,"kind":"r","t":"2022-08-11T13:00Z","a":0.1472,"b":0.1349},{"seg":14,"kind":"r","t":"2022-08-12T14:00Z","a":0.1467,"b":0.1359},{"seg":14,"kind":"r","t":"2022-08-12T22:00Z","a":0.1456,"b":0.1452},
{"seg":15,"kind":"g","t":"2022-08-12T19:00Z","a":0.1456,"b":0.1452},{"seg":15,"kind":"g","t":"2022-08-13T08:00Z","a":0.1501,"b":0.1449},{"seg":15,"kind":"g","t":"2022-08-14T04:00Z","a":0.1525,"b":0.1449},{"seg":15,"kind":"g","t":"2022-08-15T01:00Z","a":0.1541,"b":0.1449},{"seg":15,"kind":"g","t":"2022-08-15T13:00Z","a":0.1596,"b":0.1449},{"seg":15,"kind":"g","t":"2022-08-16T02:00Z","a":0.1626,"b":0.1456}
],
"zig":[
{"i":1,"t":"2022-06-04T03:00Z","v":0.1957},{"i":2,"t":"2022-06-08T02:00Z","v":0.2200},{"i":3,"t":"2022-07-02T00:00Z","v":0.1079},{"i":4,"t":"2022-07-19T05:00Z","v":0.1777},{"i":5,"t":"2022-08-04T08:00Z","v":0.1265},{"i":6,"t":"2022-08-25T08:00Z","v":0.2195}
],
"arrow":[
{"i":1,"t":"2022-08-24T16:00Z","v":0.2183},{"i":2,"t":"2022-08-25T08:00Z","v":0.2195},{"i":3,"t":"2022-08-25T08:30Z","v":0.2171}
],
"boxes":[
{"t":"2022-09-07T09:00Z","t2":"2022-09-10T13:00Z","p":0.2222,"p2":0.2171,"col":"a"},
{"t":"2022-09-07T09:00Z","t2":"2022-09-10T13:00Z","p":0.1705,"p2":0.1638,"col":"b"}
],
"boxtext":[
{"t":"2022-09-09T00:00Z","p":0.2196,"label":"0.2196"},
{"t":"2022-09-09T00:00Z","p":0.1692,"label":"0.1689"},
{"t":"2022-09-09T00:00Z","p":0.1658,"label":"16:55"}
]
},
"layer":[
{"data":{"name":"cloud"},
 "mark":{"type":"area","clip":true,"opacity":0.55},
 "encoding":{
  "x":{"field":"t","type":"temporal","scale":{"type":"utc","padding":0,"domain":[{"year":2022,"month":6,"date":4,"hours":3,"minutes":17,"utc":true},{"year":2022,"month":9,"date":7,"hours":6,"minutes":15,"utc":true}]},
   "axis":{"values":[{"year":2022,"month":6,"date":7,"utc":true},{"year":2022,"month":6,"date":13,"utc":true},{"year":2022,"month":6,"date":20,"utc":true},{"year":2022,"month":6,"date":25,"hours":12,"utc":true},{"year":2022,"month":7,"date":1,"utc":true},{"year":2022,"month":7,"date":11,"utc":true},{"year":2022,"month":7,"date":18,"utc":true},{"year":2022,"month":7,"date":25,"utc":true},{"year":2022,"month":8,"date":1,"utc":true},{"year":2022,"month":8,"date":8,"utc":true},{"year":2022,"month":8,"date":15,"utc":true},{"year":2022,"month":8,"date":22,"utc":true},{"year":2022,"month":9,"date":1,"utc":true},{"year":2022,"month":9,"date":6,"hours":12,"utc":true}],
    "labelExpr":"utchours(datum.value) == 12 ? (utcmonth(datum.value) == 8 ? '12:0' : '12:00') : (utcdate(datum.value) == 1 ? utcFormat(datum.value, '%b') : utcFormat(datum.value, '%-d'))",
    "grid":false,"ticks":false,"labelPadding":6,"labelFontSize":10,"labelColor":"#5a5a5a","domainColor":"#8c8c8c","title":null,"labelOverlap":false,"labelFlush":false,"labelBound":false}},
  "y":{"field":"a","type":"quantitative","scale":{"type":"log","domain":[0.12028,0.2686]},
   "axis":{"orient":"right","values":[0.121,0.126,0.131,0.136,0.142,0.148,0.154,0.16,0.18,0.19,0.2,0.21,0.23,0.24,0.25,0.26],"format":".4f","grid":false,"ticks":false,"labelPadding":5,"labelFontSize":9,
    "labelColor":{"condition":{"test":"datum.value > 0.255","value":"#ddd0c2"},"value":"#5a5a5a"},
    "domainColor":"#8c8c8c","title":"USDT","titleAngle":0,"titleX":6,"titleY":11,"titleAlign":"left","titleBaseline":"middle","titleFontSize":9,"titleFontWeight":"normal","titleColor":"#5a5a5a","labelOverlap":false,"labelFlush":false,"labelBound":false}},
  "y2":{"field":"b"},
  "color":{"field":"kind","type":"nominal","scale":{"domain":["g","r"],"range":["#a9d3a6","#f59c88"]},"legend":null},
  "detail":{"field":"seg","type":"nominal"}}},
{"data":{"values":[{"p":0.2196,"lvl":"a"},{"p":0.1689,"lvl":"b"}]},
 "mark":{"type":"rule","strokeWidth":1},
 "encoding":{
  "y":{"field":"p","type":"quantitative","scale":{"type":"log","domain":[0.12028,0.2686]},"axis":null},
  "color":{"condition":{"test":"datum.lvl == 'a'","value":"#ee5a5f"},"value":"#f4a395"}}},
{"data":{"name":"candles"},
 "mark":{"type":"rule","clip":true,"strokeWidth":1},
 "encoding":{
  "x":{"field":"t","type":"temporal","scale":{"type":"utc","padding":0,"domain":[{"year":2022,"month":6,"date":4,"hours":3,"minutes":17,"utc":true},{"year":2022,"month":9,"date":7,"hours":6,"minutes":15,"utc":true}]},"axis":null},
  "y":{"field":"l","type":"quantitative","scale":{"type":"log","domain":[0.12028,0.2686]},"axis":null},
  "y2":{"field":"h"},
  "color":{"condition":{"test":"datum.c >= datum.o","value":"#26a69a"},"value":"#ef5350"},
  "opacity":{"value":0.75}}},
{"data":{"name":"candles"},
 "mark":{"type":"bar","clip":true,"size":3},
 "encoding":{
  "x":{"field":"t","type":"temporal","scale":{"type":"utc","padding":0,"domain":[{"year":2022,"month":6,"date":4,"hours":3,"minutes":17,"utc":true},{"year":2022,"month":9,"date":7,"hours":6,"minutes":15,"utc":true}]},"axis":null},
  "y":{"field":"o","type":"quantitative","scale":{"type":"log","domain":[0.12028,0.2686]},"axis":null},
  "y2":{"field":"c"},
  "color":{"condition":{"test":"datum.c >= datum.o","value":"#26a69a"},"value":"#ef5350"}}},
{"data":{"name":"green"},
 "mark":{"type":"line","clip":true,"strokeWidth":1.2,"color":"#62d14b"},
 "encoding":{
  "x":{"field":"t","type":"temporal","scale":{"type":"utc","padding":0,"domain":[{"year":2022,"month":6,"date":4,"hours":3,"minutes":17,"utc":true},{"year":2022,"month":9,"date":7,"hours":6,"minutes":15,"utc":true}]},"axis":null},
  "y":{"field":"v","type":"quantitative","scale":{"type":"log","domain":[0.12028,0.2686]},"axis":null}}},
{"data":{"name":"orange"},
 "mark":{"type":"line","clip":true,"strokeWidth":1,"color":"#f2692a"},
 "encoding":{
  "x":{"field":"t","type":"temporal","scale":{"type":"utc","padding":0,"domain":[{"year":2022,"month":6,"date":4,"hours":3,"minutes":17,"utc":true},{"year":2022,"month":9,"date":7,"hours":6,"minutes":15,"utc":true}]},"axis":null},
  "y":{"field":"v","type":"quantitative","scale":{"type":"log","domain":[0.12028,0.2686]},"axis":null}}},
{"data":{"name":"blue"},
 "mark":{"type":"line","clip":true,"strokeWidth":1,"color":"#2f55c4"},
 "encoding":{
  "x":{"field":"t","type":"temporal","scale":{"type":"utc","padding":0,"domain":[{"year":2022,"month":6,"date":4,"hours":3,"minutes":17,"utc":true},{"year":2022,"month":9,"date":7,"hours":6,"minutes":15,"utc":true}]},"axis":null},
  "y":{"field":"v","type":"quantitative","scale":{"type":"log","domain":[0.12028,0.2686]},"axis":null}}},
{"data":{"name":"purple"},
 "mark":{"type":"line","clip":true,"strokeWidth":3,"color":"#9c27b0"},
 "encoding":{
  "x":{"field":"t","type":"temporal","scale":{"type":"utc","padding":0,"domain":[{"year":2022,"month":6,"date":4,"hours":3,"minutes":17,"utc":true},{"year":2022,"month":9,"date":7,"hours":6,"minutes":15,"utc":true}]},"axis":null},
  "y":{"field":"v","type":"quantitative","scale":{"type":"log","domain":[0.12028,0.2686]},"axis":null}}},
{"data":{"name":"zig"},
 "mark":{"type":"line","clip":true,"strokeWidth":1,"color":"#2b2b2b"},
 "encoding":{
  "x":{"field":"t","type":"temporal","scale":{"type":"utc","padding":0,"domain":[{"year":2022,"month":6,"date":4,"hours":3,"minutes":17,"utc":true},{"year":2022,"month":9,"date":7,"hours":6,"minutes":15,"utc":true}]},"axis":null},
  "y":{"field":"v","type":"quantitative","scale":{"type":"log","domain":[0.12028,0.2686]},"axis":null},
  "order":{"field":"i","type":"quantitative"}}},
{"data":{"name":"arrow"},
 "mark":{"type":"line","clip":true,"strokeWidth":1,"color":"#2b2b2b"},
 "encoding":{
  "x":{"field":"t","type":"temporal","scale":{"type":"utc","padding":0,"domain":[{"year":2022,"month":6,"date":4,"hours":3,"minutes":17,"utc":true},{"year":2022,"month":9,"date":7,"hours":6,"minutes":15,"utc":true}]},"axis":null},
  "y":{"field":"v","type":"quantitative","scale":{"type":"log","domain":[0.12028,0.2686]},"axis":null},
  "order":{"field":"i","type":"quantitative"}}},
{"data":{"name":"boxes"},
 "mark":{"type":"rect","clip":false,"cornerRadius":2},
 "encoding":{
  "x":{"field":"t","type":"temporal","scale":{"type":"utc","padding":0,"domain":[{"year":2022,"month":6,"date":4,"hours":3,"minutes":17,"utc":true},{"year":2022,"month":9,"date":7,"hours":6,"minutes":15,"utc":true}]},"axis":null},
  "x2":{"field":"t2"},
  "y":{"field":"p","type":"quantitative","scale":{"type":"log","domain":[0.12028,0.2686]},"axis":null},
  "y2":{"field":"p2"},
  "color":{"condition":{"test":"datum.col == 'a'","value":"#f23645"},"value":"#ee5555"}}},
{"data":{"name":"boxtext"},
 "mark":{"type":"text","clip":false,"color":"#ffffff","fontSize":9,"align":"center","baseline":"middle"},
 "encoding":{
  "x":{"field":"t","type":"temporal","scale":{"type":"utc","padding":0,"domain":[{"year":2022,"month":6,"date":4,"hours":3,"minutes":17,"utc":true},{"year":2022,"month":9,"date":7,"hours":6,"minutes":15,"utc":true}]},"axis":null},
  "y":{"field":"p","type":"quantitative","scale":{"type":"log","domain":[0.12028,0.2686]},"axis":null},
  "text":{"field":"label","type":"nominal"}}}
]
}
